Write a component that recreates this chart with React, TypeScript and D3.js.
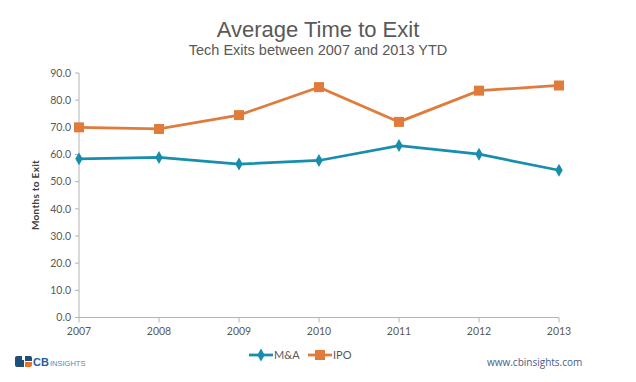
import React from "react";
import * as d3 from "d3";

const years = ["2007", "2008", "2009", "2010", "2011", "2012", "2013"];
const mnaValues = [58.4, 58.9, 56.5, 57.8, 63.3, 60.1, 54.2];
const ipoValues = [70.0, 69.4, 74.5, 84.8, 72.0, 83.5, 85.4];
const yTicks = [0, 10, 20, 30, 40, 50, 60, 70, 80, 90];
const seriesNames = ["M&A", "IPO"];

const W = 636;
const H = 382;
const MNA = "#178EAE";
const IPO = "#E07B3C";
const AXIS = "#B3B3B3";
const TXT = "#595959";

export default function App() {
  const x = d3.scalePoint<string>().domain(years).range([79, 559]);
  const y = d3.scaleLinear().domain([0, 90]).range([317.5, 73]);
  const line = d3
    .line<number>()
    .x((_, i) => x(years[i]) as number)
    .y((d) => y(d));
  const diamond = d3.symbol().type(d3.symbolDiamond).size(48)();

  return (
    <svg
      width={W}
      height={H}
      style={{ position: "absolute", left: 0, top: 0, background: "#fff" }}
      fontFamily="'Liberation Sans', Arial, sans-serif"
    >
      <rect width={W} height={H} fill="#fff" />
      <text x={318} y={37} textAnchor="middle" fontSize={22} fill={TXT}>
        Average Time to Exit
      </text>
      <text x={318} y={55} textAnchor="middle" fontSize={14.5} fill={TXT}>
        Tech Exits between 2007 and 2013 YTD
      </text>

      {/* Y axis */}
      <line x1={79} x2={79} y1={y(90)} y2={y(0)} stroke={AXIS} strokeWidth={1} />
      {yTicks.map((t) => (
        <g key={t}>
          <line x1={75} x2={79} y1={y(t)} y2={y(t)} stroke={AXIS} />
          <text
            x={71}
            y={y(t)}
            dy="0.35em"
            textAnchor="end"
            fontSize={10.5}
            fontFamily="Lato, 'Open Sans', sans-serif"
            fill={TXT}
          >
            {t.toFixed(1)}
          </text>
        </g>
      ))}
      <text
        transform={`translate(39,${195}) rotate(-90)`}
        textAnchor="middle"
        fontSize={10}
        fontWeight="bold"
        letterSpacing={0.3}
        fontFamily="Lato, 'Open Sans', sans-serif"
        fill="#404040"
      >
        Months to Exit
      </text>

      {/* X axis */}
      <line x1={79} x2={559} y1={y(0)} y2={y(0)} stroke={AXIS} strokeWidth={1} />
      {years.map((yr) => (
        <g key={yr}>
          <line
            x1={x(yr)}
            x2={x(yr)}
            y1={y(0)}
            y2={y(0) + 5}
            stroke={AXIS}
          />
          <text
            x={x(yr)}
            y={335}
            textAnchor="middle"
            fontSize={10.5}
            fontFamily="Lato, 'Open Sans', sans-serif"
            fill={TXT}
          >
            {yr}
          </text>
        </g>
      ))}

      {/* Series */}
      <path d={line(ipoValues) || ""} fill="none" stroke={IPO} strokeWidth={2.75} />
      {ipoValues.map((v, i) => (
        <rect
          key={i}
          x={(x(years[i]) as number) - 5}
          y={y(v) - 5}
          width={10}
          height={10}
          fill={IPO}
        />
      ))}
      <path d={line(mnaValues) || ""} fill="none" stroke={MNA} strokeWidth={2.75} />
      {mnaValues.map((v, i) => (
        <path
          key={i}
          d={diamond || ""}
          transform={`translate(${x(years[i])},${y(v)})`}
          fill={MNA}
        />
      ))}

      {/* Legend */}
      <g fontFamily="Lato, 'Open Sans', sans-serif" fontSize={11} fill={TXT}>
        <line x1={249} x2={273} y1={355} y2={355} stroke={MNA} strokeWidth={2.75} />
        <path d={diamond || ""} transform="translate(261,355)" fill={MNA} />
        <text x={274} y={355} dy="0.35em">{seriesNames[0]}</text>
        <line x1={308} x2={332} y1={355} y2={355} stroke={IPO} strokeWidth={2.75} />
        <rect x={315} y={350} width={10} height={10} fill={IPO} />
        <text x={333} y={355} dy="0.35em">{seriesNames[1]}</text>
      </g>

      {/* Logo */}
      <g>
        <path d="M15,358 q0,-2 2,-2 h7 v11 h-7 q-2,0 -2,-2 z" fill="#1F4E79" />
        <rect x={22} y={356} width={4} height={4} fill="#fff" />
        <path d="M25,356 h5 q2,0 2,2 v3 h-7 z" fill="#1F4E79" />
        <path d="M25,362 h7 v3 q0,2 -2,2 h-5 z" fill="#E8742E" />
        <text x={33} y={366} fontSize={11} fontWeight="bold" fill="#1F5FA0" fontFamily="'Liberation Sans', Arial, sans-serif">
          CB
        </text>
        <text x={50} y={366} fontSize={7.5} fill="#3F8FC8" fontFamily="'Liberation Sans', Arial, sans-serif">
          INSIGHTS
        </text>
      </g>
      <text x={487} y={366} fontSize={10} fill="#4A5A8C" fontFamily="'Open Sans', sans-serif">
        www.cbinsights.com
      </text>
    </svg>
  );
}
